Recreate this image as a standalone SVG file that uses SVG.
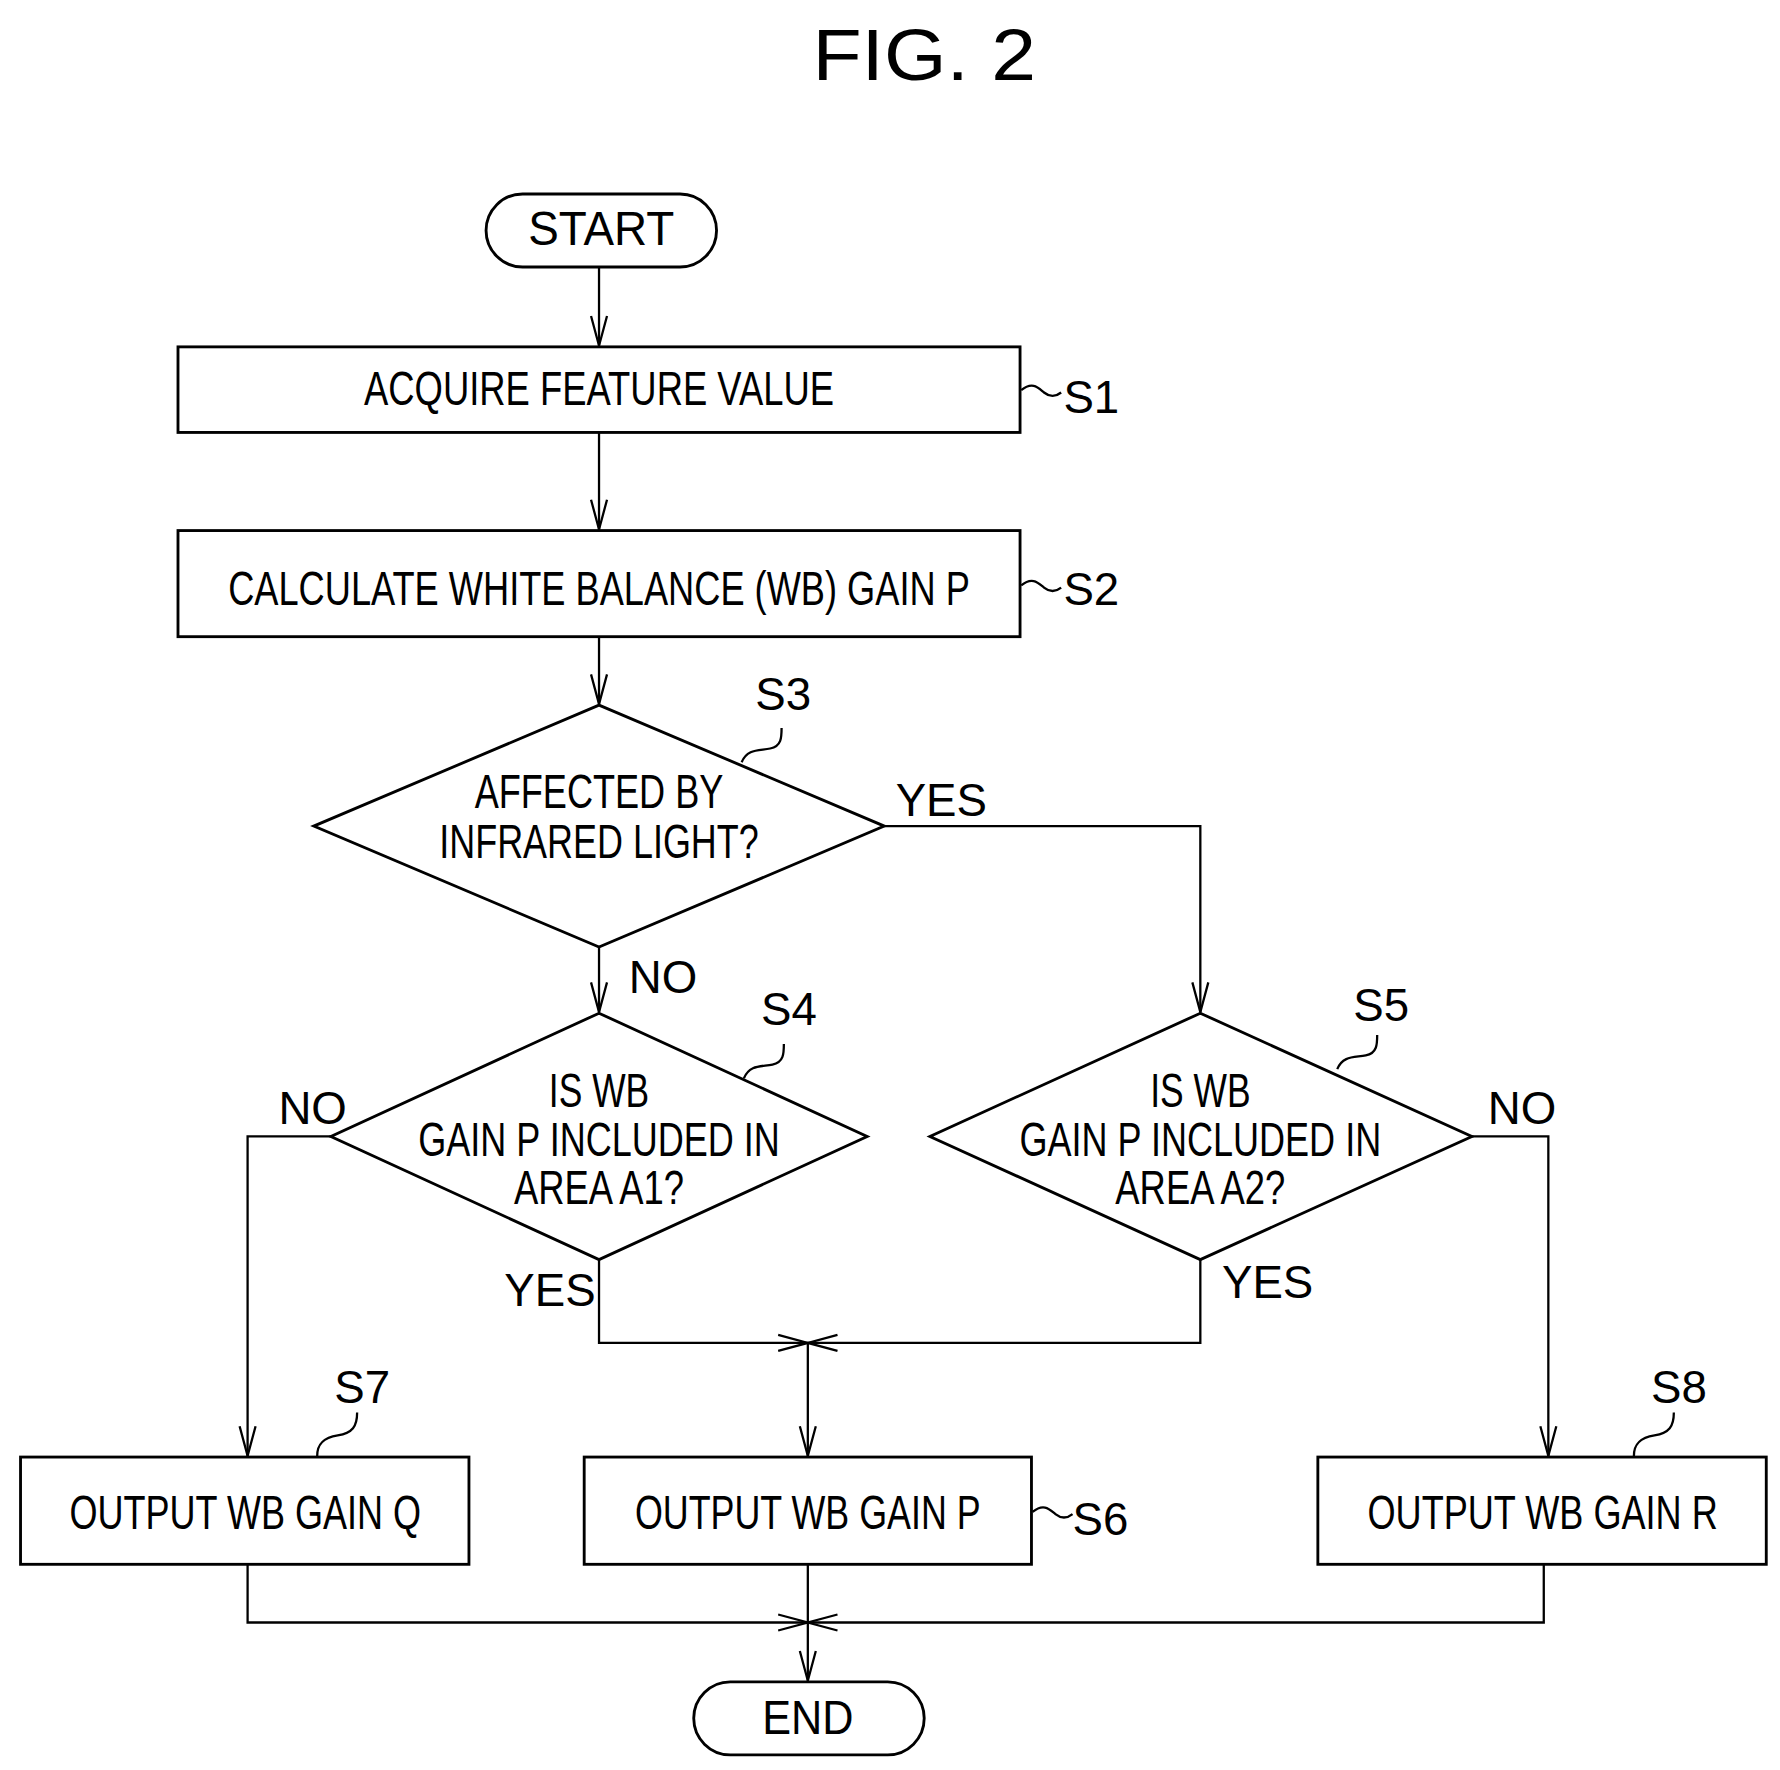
<svg xmlns="http://www.w3.org/2000/svg" width="1780" height="1770" viewBox="0 0 1780 1770">
<defs>
<style>
.s{fill:#fff;stroke:#000;stroke-width:2.5}
.c{fill:none;stroke:#000;stroke-width:2}
.t{font-family:"Liberation Sans",Arial,sans-serif;font-size:42px;text-anchor:middle;fill:#000}
.l{font-family:"Liberation Sans",Arial,sans-serif;font-size:40px;fill:#000}
</style>
<marker id="a" markerUnits="userSpaceOnUse" markerWidth="40" markerHeight="30" refX="0" refY="0" viewBox="-30 -15 40 30" orient="auto" overflow="visible">
<path d="M-26,-7 L0,0 L-26,7" fill="none" stroke="#000" stroke-width="2"/>
</marker>
</defs>
<rect width="1780" height="1770" fill="#fff"/>
<g transform="scale(1.141)">
<text x="810" y="70" class="t" style="font-size:64px" textLength="196" lengthAdjust="spacingAndGlyphs">FIG. 2</text>
<g id="connectors" class="c">
<path d="M525,234 V303" marker-end="url(#a)"/>
<path d="M525,379 V464" marker-end="url(#a)"/>
<path d="M525,558 V617" marker-end="url(#a)"/>
<path d="M525,830 V887" marker-end="url(#a)"/>
<path d="M775,724 H1052 V887" marker-end="url(#a)"/>
<path d="M290,996 H217 V1276" marker-end="url(#a)"/>
<path d="M1290,996 H1357 V1276" marker-end="url(#a)"/>
<path d="M525,1104 V1177 H708" marker-end="url(#a)"/>
<path d="M1052,1104 V1177 H708" marker-end="url(#a)"/>
<path d="M708,1177 V1276" marker-end="url(#a)"/>
<path d="M217,1371 V1422 H708" marker-end="url(#a)"/>
<path d="M1353,1371 V1422 H708" marker-end="url(#a)"/>
<path d="M708,1371 V1473" marker-end="url(#a)"/>
<path d="M895,342 c10,-8 15,-2 20,2 s10,4 15,0"/>
<path d="M895,513 c10,-8 15,-2 20,2 s10,4 15,0"/>
<path d="M905,1325 c10,-8 15,-2 20,2 s10,4 15,0"/>
<path d="M650,668 c5,-12 15,-10 25,-12 s10,-10 10,-18"/>
<path d="M652,945 c5,-12 15,-10 25,-12 s10,-10 10,-18"/>
<path d="M1172,937 c5,-12 15,-10 25,-12 s10,-10 10,-18"/>
<path d="M278,1276 c0,-10 5,-16 18,-18 s17,-8 17,-20"/>
<path d="M1432,1276 c0,-10 5,-16 18,-18 s17,-8 17,-20"/>
</g>
<g id="start"><rect class="s" x="426" y="170" width="202" height="64" rx="32"/><text class="t" x="527" y="215" textLength="128" lengthAdjust="spacingAndGlyphs">START</text></g>
<g id="s1"><rect class="s" x="156" y="304" width="738" height="75"/><text class="t" x="525" y="355" textLength="412" lengthAdjust="spacingAndGlyphs">ACQUIRE FEATURE VALUE</text><text class="l" x="932" y="362">S1</text></g>
<g id="s2"><rect class="s" x="156" y="465" width="738" height="93"/><text class="t" x="525" y="530" textLength="650" lengthAdjust="spacingAndGlyphs">CALCULATE WHITE BALANCE (WB) GAIN P</text><text class="l" x="932" y="530">S2</text></g>
<g id="s3"><path class="s" d="M525,618 L775,724 L525,830 L275,724 Z"/><text class="t" x="525" y="708" textLength="218" lengthAdjust="spacingAndGlyphs">AFFECTED BY</text><text class="t" x="525" y="752" textLength="280" lengthAdjust="spacingAndGlyphs">INFRARED LIGHT?</text><text class="l" x="662" y="622">S3</text><text class="l" x="785" y="715">YES</text><text class="l" x="551" y="870">NO</text></g>
<g id="s4"><path class="s" d="M525,888 L760,996 L525,1104 L290,996 Z"/><text class="t" x="525" y="970" textLength="88" lengthAdjust="spacingAndGlyphs">IS WB</text><text class="t" x="525" y="1013" textLength="317" lengthAdjust="spacingAndGlyphs">GAIN P INCLUDED IN</text><text class="t" x="525" y="1055" textLength="149" lengthAdjust="spacingAndGlyphs">AREA A1?</text><text class="l" x="667" y="898">S4</text><text class="l" x="244" y="985">NO</text><text class="l" x="442" y="1145">YES</text></g>
<g id="s5"><path class="s" d="M1052,888 L1290,996 L1052,1104 L815,996 Z"/><text class="t" x="1052" y="970" textLength="88" lengthAdjust="spacingAndGlyphs">IS WB</text><text class="t" x="1052" y="1013" textLength="317" lengthAdjust="spacingAndGlyphs">GAIN P INCLUDED IN</text><text class="t" x="1052" y="1055" textLength="149" lengthAdjust="spacingAndGlyphs">AREA A2?</text><text class="l" x="1186" y="895">S5</text><text class="l" x="1304" y="985">NO</text><text class="l" x="1071" y="1138">YES</text></g>
<g id="s7"><rect class="s" x="18" y="1277" width="393" height="94"/><text class="t" x="215" y="1340" textLength="308" lengthAdjust="spacingAndGlyphs">OUTPUT WB GAIN Q</text><text class="l" x="293" y="1230">S7</text></g>
<g id="s6"><rect class="s" x="512" y="1277" width="392" height="94"/><text class="t" x="708" y="1340" textLength="303" lengthAdjust="spacingAndGlyphs">OUTPUT WB GAIN P</text><text class="l" x="940" y="1345">S6</text></g>
<g id="s8"><rect class="s" x="1155" y="1277" width="393" height="94"/><text class="t" x="1352" y="1340" textLength="307" lengthAdjust="spacingAndGlyphs">OUTPUT WB GAIN R</text><text class="l" x="1447" y="1230">S8</text></g>
<g id="end"><rect class="s" x="608" y="1474" width="202" height="64" rx="32"/><text class="t" x="708" y="1520" textLength="80" lengthAdjust="spacingAndGlyphs">END</text></g>
</g>
</svg>
